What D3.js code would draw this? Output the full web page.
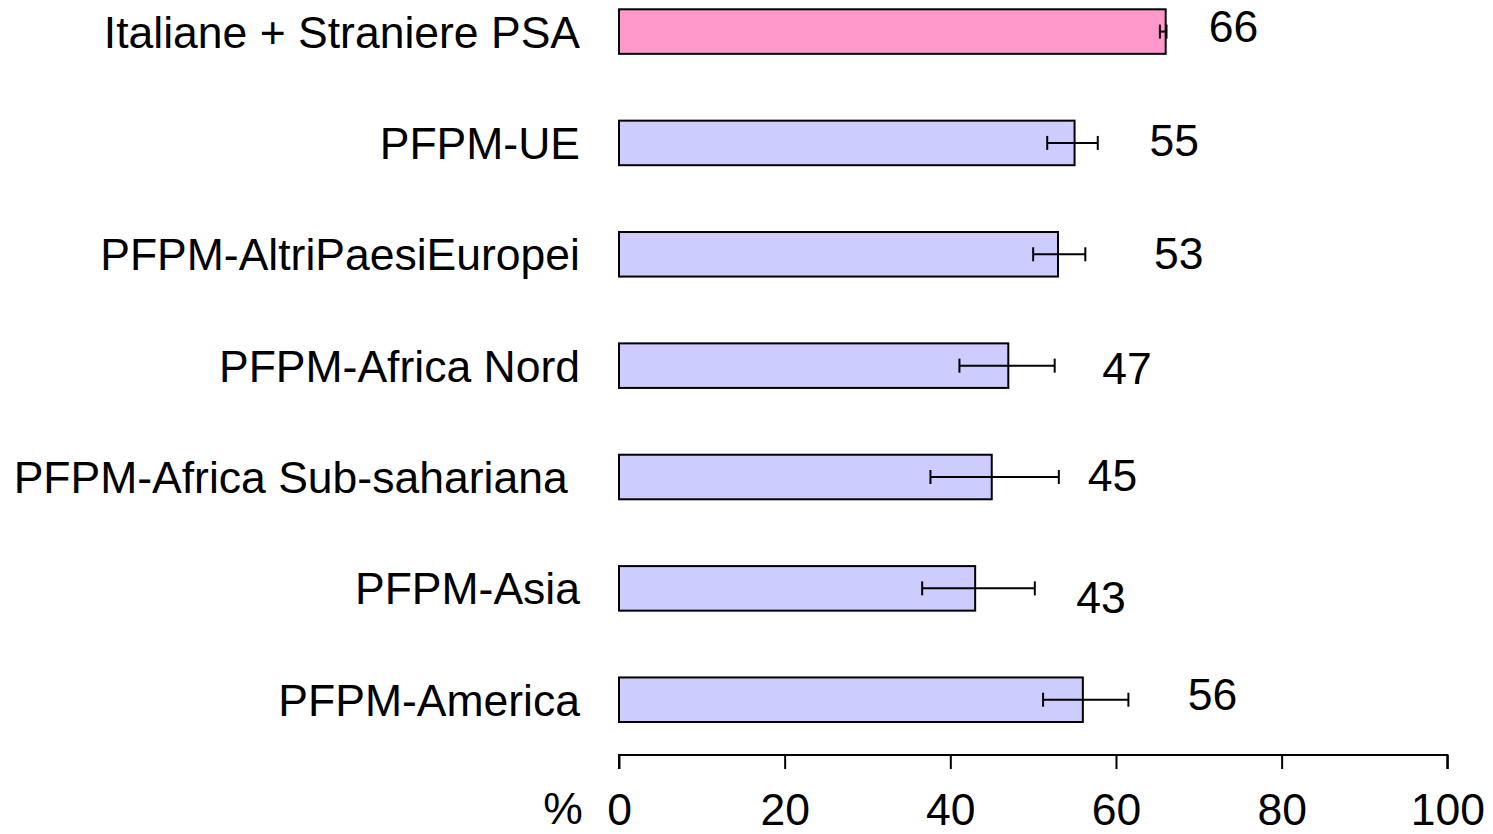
<!DOCTYPE html>
<html>
<head>
<meta charset="utf-8">
<script src="https://cdn.jsdelivr.net/npm/d3@7/dist/d3.min.js"></script>
<style>
  html, body { margin: 0; padding: 0; background: #ffffff; }
  svg { display: block; }
  text { font-family: "Liberation Sans", Arial, sans-serif; fill: #000; }
</style>
</head>
<body>
<svg id="chart" width="1493" height="834"></svg>
<script>
// Adesione (%) per gruppo di provenienza, con intervallo di confidenza
const categories = [
  "Italiane + Straniere PSA",
  "PFPM-UE",
  "PFPM-AltriPaesiEuropei",
  "PFPM-Africa Nord",
  "PFPM-Africa Sub-sahariana ",
  "PFPM-Asia",
  "PFPM-America"
];
const values  = [66, 55, 53, 47, 45, 43, 56];
const errLow  = [65.3, 51.7, 50.0, 41.1, 37.6, 36.6, 51.2];
const errHigh = [66.1, 57.8, 56.3, 52.6, 53.1, 50.2, 61.5];
const barColors = ["#FF99CC", "#CCCCFF", "#CCCCFF", "#CCCCFF", "#CCCCFF", "#CCCCFF", "#CCCCFF"];
const xTicks = [0, 20, 40, 60, 80, 100];
const axisUnit = "%";

// Hand placement of the value labels: [px right of bar end, px from bar centre]
const labelNudge = [[43, -5.5], [75, -2.5], [96, -1.5], [94, 2.3], [96, -1.5], [101, 8.7], [105, -5.5]];

const FONT = 44.5;
const rows = categories.map((c, i) => ({
  cat: c, value: values[i], lo: errLow[i], hi: errHigh[i], color: barColors[i], nudge: labelNudge[i]
}));

const svg = d3.select("#chart");

const x = d3.scaleLinear().domain([0, 100]).range([619, 1447.3]);
const y = d3.scaleBand().domain(categories).range([9.3, 722]).paddingInner(0.6).paddingOuter(0);
const bw = y.bandwidth();

// Bars
svg.append("g").selectAll("rect").data(rows).join("rect")
  .attr("x", x(0))
  .attr("y", d => y(d.cat))
  .attr("width", d => x(d.value) - x(0))
  .attr("height", bw)
  .attr("fill", d => d.color)
  .attr("stroke", "#000")
  .attr("stroke-width", 2);

// Error bars
const eb = svg.append("g").attr("stroke", "#000").attr("stroke-width", 2);
rows.forEach(d => {
  const cy = y(d.cat) + bw / 2;
  eb.append("line").attr("x1", x(d.lo)).attr("x2", x(d.hi)).attr("y1", cy).attr("y2", cy);
  eb.append("line").attr("x1", x(d.lo)).attr("x2", x(d.lo)).attr("y1", cy - 7).attr("y2", cy + 7);
  eb.append("line").attr("x1", x(d.hi)).attr("x2", x(d.hi)).attr("y1", cy - 7).attr("y2", cy + 7);
});

// Value labels
svg.append("g").selectAll("text").data(rows).join("text")
  .attr("x", d => x(d.value) + d.nudge[0])
  .attr("y", d => y(d.cat) + bw / 2 + d.nudge[1] + FONT * 0.358)
  .attr("font-size", FONT)
  .attr("text-anchor", "start")
  .text(d => d3.format("d")(d.value));

// Category labels
svg.append("g").selectAll("text").data(rows).join("text")
  .attr("x", 580)
  .attr("y", d => y(d.cat) + bw / 2 + FONT * 0.358)
  .attr("font-size", FONT)
  .attr("text-anchor", "end")
  .style("white-space", "pre")
  .text(d => d.cat);

// X axis
const axisY = 755;
const gx = svg.append("g")
  .attr("transform", `translate(0,${axisY})`)
  .call(d3.axisBottom(x).tickValues(xTicks).tickSize(14).tickPadding(24).tickFormat(d3.format("d")));
gx.select(".domain").attr("stroke", "#000").attr("stroke-width", 2)
  .attr("d", `M${x(0)},14V0H${x(100)}V14`);
gx.selectAll(".tick line").attr("stroke", "#000").attr("stroke-width", 2);
gx.selectAll(".tick text")
  .attr("font-size", FONT)
  .attr("font-family", "Liberation Sans, Arial, sans-serif")
  .attr("fill", "#000");

// Unit label
svg.append("text")
  .attr("x", 563)
  .attr("y", 824)
  .attr("font-size", FONT)
  .attr("text-anchor", "middle")
  .text(axisUnit);
</script>
</body>
</html>
